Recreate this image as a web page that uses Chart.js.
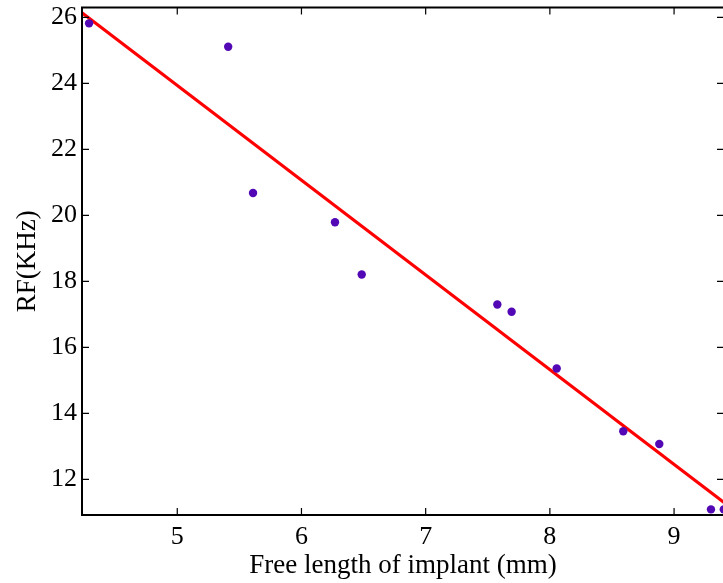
<!DOCTYPE html>
<html><head><meta charset="utf-8">
<script src="https://cdn.jsdelivr.net/npm/chart.js@4"></script>
<style>
html,body{margin:0;padding:0;overflow:hidden;background:#fff;width:723px;height:583px}
#wrap{position:absolute;left:0;top:0;width:740px;height:583px}
</style>
</head><body><div id="wrap"><canvas id="c"></canvas></div>
<script>
const freeLength = [4.29, 5.41, 5.61, 6.27, 6.485, 7.577, 7.692, 8.055, 8.591, 8.881, 9.297, 9.40];
const rfKHz      = [25.82, 25.11, 20.68, 19.79, 18.21, 17.30, 17.08, 15.36, 13.46, 13.07, 11.09, 11.09];
const fitLength  = [4.233, 9.402];
const fitRF      = [26.14, 11.30];
const xTickValues = [5, 6, 7, 8, 9];
const yTickValues = [12, 14, 16, 18, 20, 22, 24, 26];
const xTitle = 'Free length of implant (mm)';
const yTitle = 'RF(KHz)';

const FONT = '"Liberation Serif", "Times New Roman", serif';

const boxPlugin = {
  id: 'box',
  afterDatasetsDraw(chart) {
    const {ctx, chartArea: {left, right, top, bottom}, scales: {x, y}} = chart;
    ctx.save();
    ctx.strokeStyle = '#000';
    ctx.lineWidth = 1.2;
    const tl = 7;
    ctx.beginPath();
    xTickValues.forEach(v => {
      const px = x.getPixelForValue(v);
      ctx.moveTo(px, bottom); ctx.lineTo(px, bottom - tl);
      ctx.moveTo(px, top); ctx.lineTo(px, top + tl);
    });
    yTickValues.forEach(v => {
      const py = y.getPixelForValue(v);
      ctx.moveTo(left, py); ctx.lineTo(left + tl, py);
      ctx.moveTo(right, py); ctx.lineTo(right - tl, py);
    });
    ctx.stroke();
    ctx.lineWidth = 2;
    ctx.strokeRect(left, top, right - left, bottom - top);
    ctx.restore();
  }
};

new Chart(document.getElementById('c'), {
  type: 'scatter',
  data: {
    datasets: [
      {
        label: 'points',
        data: freeLength.map((v, i) => ({x: v, y: rfKHz[i]})),
        backgroundColor: '#5208b4',
        borderColor: '#5208b4',
        pointRadius: 4.2,
        pointBorderWidth: 0,
        order: 0
      },
      {
        label: 'fit',
        data: fitLength.map((v, i) => ({x: v, y: fitRF[i]})),
        showLine: true,
        borderColor: '#ff0000',
        borderWidth: 3,
        pointRadius: 0,
        fill: false,
        order: 1
      }
    ]
  },
  plugins: [boxPlugin],
  options: {
    responsive: true,
    maintainAspectRatio: false,
    animation: false,
    events: [],
    layout: {autoPadding: false, padding: {top: 7.5, right: 16, left: 0, bottom: 0}},
    plugins: {legend: {display: false}, tooltip: {enabled: false}},
    scales: {
      x: {
        type: 'linear',
        min: 4.233, max: 9.402,
        afterBuildTicks: s => { s.ticks = xTickValues.map(v => ({value: v})); },
        afterFit: s => { s.height = 68; s.paddingLeft = 0; s.paddingRight = 0; },
        grid: {display: false, drawTicks: false},
        border: {display: false},
        ticks: {color: '#000', font: {family: FONT, size: 26}, padding: 7, maxRotation: 0},
        title: {display: true, text: xTitle, color: '#000', font: {family: FONT, size: 27}, padding: {top: 0, bottom: 1}}
      },
      y: {
        type: 'linear',
        min: 10.92, max: 26.3,
        afterBuildTicks: s => { s.ticks = yTickValues.map(v => ({value: v})); },
        afterFit: s => { s.width = 82; s.paddingTop = 0; s.paddingBottom = 0; },
        grid: {display: false, drawTicks: false},
        border: {display: false},
        ticks: {color: '#000', font: {family: FONT, size: 26}, padding: 5},
        title: {display: true, text: yTitle, color: '#000', font: {family: FONT, size: 27}, padding: {top: 12, bottom: 0}}
      }
    }
  }
});
</script>
</body></html>
